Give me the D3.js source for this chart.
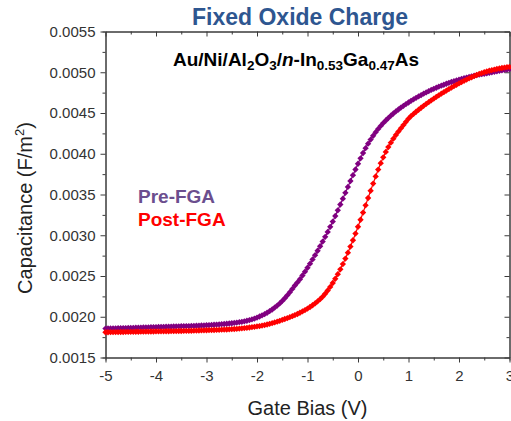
<!DOCTYPE html>
<html>
<head>
<meta charset="utf-8">
<script src="https://cdn.jsdelivr.net/npm/d3@7"></script>
<style>
  body { margin: 0; background: #fff; }
  svg text { font-family: "Liberation Sans", Arial, Helvetica, sans-serif; }
</style>
</head>
<body>
<svg id="chart" width="511" height="421"></svg>
<script>
// Gate bias sweep (V)
const gateBias = [
  -5.00, -4.95, -4.90, -4.85, -4.80, -4.75, -4.70, -4.65, -4.60, -4.55,
  -4.50, -4.45, -4.40, -4.35, -4.30, -4.25, -4.20, -4.15, -4.10, -4.05,
  -4.00, -3.95, -3.90, -3.85, -3.80, -3.75, -3.70, -3.65, -3.60, -3.55,
  -3.50, -3.45, -3.40, -3.35, -3.30, -3.25, -3.20, -3.15, -3.10, -3.05,
  -3.00, -2.95, -2.90, -2.85, -2.80, -2.75, -2.70, -2.65, -2.60, -2.55,
  -2.50, -2.45, -2.40, -2.35, -2.30, -2.25, -2.20, -2.15, -2.10, -2.05,
  -2.00, -1.95, -1.90, -1.85, -1.80, -1.75, -1.70, -1.65, -1.60, -1.55,
  -1.50, -1.45, -1.40, -1.35, -1.30, -1.25, -1.20, -1.15, -1.10, -1.05,
  -1.00, -0.95, -0.90, -0.85, -0.80, -0.75, -0.70, -0.65, -0.60, -0.55,
  -0.50, -0.45, -0.40, -0.35, -0.30, -0.25, -0.20, -0.15, -0.10, -0.05,
   0.00,  0.05,  0.10,  0.15,  0.20,  0.25,  0.30,  0.35,  0.40,  0.45,
   0.50,  0.55,  0.60,  0.65,  0.70,  0.75,  0.80,  0.85,  0.90,  0.95,
   1.00,  1.05,  1.10,  1.15,  1.20,  1.25,  1.30,  1.35,  1.40,  1.45,
   1.50,  1.55,  1.60,  1.65,  1.70,  1.75,  1.80,  1.85,  1.90,  1.95,
   2.00,  2.05,  2.10,  2.15,  2.20,  2.25,  2.30,  2.35,  2.40,  2.45,
   2.50,  2.55,  2.60,  2.65,  2.70,  2.75,  2.80,  2.85,  2.90,  2.95,
   3.00
];

// Capacitance before forming-gas anneal (F/m^2)
const preFGA = [
  0.001855, 0.001856, 0.001857, 0.001857, 0.001858, 0.001859, 0.001860, 0.001861, 0.001861, 0.001862,
  0.001863, 0.001864, 0.001865, 0.001866, 0.001867, 0.001868, 0.001869, 0.001870, 0.001871, 0.001872,
  0.001873, 0.001874, 0.001875, 0.001876, 0.001877, 0.001878, 0.001879, 0.001880, 0.001881, 0.001882,
  0.001883, 0.001884, 0.001885, 0.001886, 0.001887, 0.001889, 0.001890, 0.001891, 0.001893, 0.001894,
  0.001896, 0.001898, 0.001900, 0.001902, 0.001904, 0.001906, 0.001909, 0.001911, 0.001914, 0.001917,
  0.001920, 0.001924, 0.001928, 0.001933, 0.001938, 0.001944, 0.001951, 0.001959, 0.001967, 0.001978,
  0.001990, 0.002003, 0.002017, 0.002032, 0.002049, 0.002068, 0.002089, 0.002112, 0.002137, 0.002164,
  0.002194, 0.002227, 0.002263, 0.002301, 0.002341, 0.002383, 0.002421, 0.002460, 0.002506, 0.002553,
  0.002601, 0.002651, 0.002703, 0.002756, 0.002810, 0.002865, 0.002922, 0.002981, 0.003041, 0.003103,
  0.003168, 0.003236, 0.003306, 0.003377, 0.003449, 0.003521, 0.003593, 0.003666, 0.003737, 0.003807,
  0.003877, 0.003944, 0.004009, 0.004069, 0.004124, 0.004174, 0.004221, 0.004265, 0.004305, 0.004342,
  0.004376, 0.004408, 0.004438, 0.004467, 0.004494, 0.004519, 0.004543, 0.004566, 0.004588, 0.004609,
  0.004629, 0.004649, 0.004668, 0.004686, 0.004703, 0.004720, 0.004737, 0.004753, 0.004768, 0.004783,
  0.004797, 0.004810, 0.004823, 0.004835, 0.004847, 0.004859, 0.004870, 0.004880, 0.004890, 0.004900,
  0.004909, 0.004918, 0.004927, 0.004935, 0.004943, 0.004950, 0.004957, 0.004964, 0.004970, 0.004976,
  0.004982, 0.004988, 0.004994, 0.005000, 0.005006, 0.005012, 0.005018, 0.005023, 0.005029, 0.005034,
  0.005040
];

// Capacitance after forming-gas anneal (F/m^2)
const postFGA = [
  0.001810, 0.001810, 0.001811, 0.001811, 0.001812, 0.001812, 0.001813, 0.001813, 0.001814, 0.001814,
  0.001815, 0.001815, 0.001816, 0.001816, 0.001817, 0.001817, 0.001818, 0.001818, 0.001819, 0.001819,
  0.001820, 0.001820, 0.001821, 0.001821, 0.001822, 0.001822, 0.001823, 0.001823, 0.001824, 0.001825,
  0.001825, 0.001826, 0.001827, 0.001827, 0.001828, 0.001829, 0.001830, 0.001831, 0.001832, 0.001833,
  0.001834, 0.001835, 0.001836, 0.001837, 0.001838, 0.001840, 0.001841, 0.001843, 0.001844, 0.001846,
  0.001848, 0.001850, 0.001852, 0.001855, 0.001858, 0.001861, 0.001864, 0.001868, 0.001872, 0.001876,
  0.001881, 0.001886, 0.001892, 0.001898, 0.001905, 0.001913, 0.001921, 0.001930, 0.001940, 0.001950,
  0.001961, 0.001972, 0.001983, 0.001995, 0.002007, 0.002020, 0.002034, 0.002049, 0.002065, 0.002082,
  0.002100, 0.002120, 0.002141, 0.002164, 0.002189, 0.002216, 0.002246, 0.002282, 0.002322, 0.002366,
  0.002414, 0.002466, 0.002522, 0.002582, 0.002646, 0.002714, 0.002786, 0.002861, 0.002939, 0.003020,
  0.003104, 0.003190, 0.003278, 0.003367, 0.003457, 0.003546, 0.003634, 0.003722, 0.003806, 0.003884,
  0.003956, 0.004022, 0.004082, 0.004136, 0.004185, 0.004230, 0.004272, 0.004312, 0.004352, 0.004392,
  0.004430, 0.004462, 0.004489, 0.004515, 0.004540, 0.004564, 0.004588, 0.004611, 0.004633, 0.004655,
  0.004676, 0.004697, 0.004717, 0.004737, 0.004756, 0.004775, 0.004793, 0.004811, 0.004829, 0.004846,
  0.004863, 0.004879, 0.004895, 0.004910, 0.004925, 0.004939, 0.004953, 0.004966, 0.004979, 0.004990,
  0.005000, 0.005009, 0.005018, 0.005026, 0.005033, 0.005040, 0.005046, 0.005052, 0.005057, 0.005062,
  0.005066
];

const xTicks = [-5, -4, -3, -2, -1, 0, 1, 2, 3];
const xMinorTicks = [-4.5, -3.5, -2.5, -1.5, -0.5, 0.5, 1.5, 2.5];
const yTicks = [0.0015, 0.0020, 0.0025, 0.0030, 0.0035, 0.0040, 0.0045, 0.0050, 0.0055];
const yMinorTicks = [0.00175, 0.00225, 0.00275, 0.00325, 0.00375, 0.00425, 0.00475, 0.00525];
const seriesNames = ["Pre-FGA", "Post-FGA"];
const seriesColors = ["#800080", "#ff0000"];
const legendColors = ["#6b4e8e", "#ff0000"];

const svg = d3.select("#chart");

const x = d3.scaleLinear().domain([-5, 3]).range([105.5, 509.5]);
const y = d3.scaleLinear().domain([0.0015, 0.0055]).range([357.5, 31.5]);

const axisColor = "#3a3a3a";
const tickText = "#333";

function styleAxis(g) {
  g.selectAll("path.domain").attr("stroke", axisColor);
  g.selectAll(".tick line").attr("stroke", axisColor);
  g.selectAll(".tick text").attr("fill", tickText).style("font-size", "15px");
}

// bottom axis: major + minor ticks, outward
svg.append("g").attr("transform", `translate(0,${y.range()[0]})`)
  .call(d3.axisBottom(x).tickValues(xTicks).tickSize(5).tickSizeOuter(0).tickPadding(8)
    .tickFormat(d => String(d)))
  .call(styleAxis);
svg.append("g").attr("transform", `translate(0,${y.range()[0]})`)
  .call(d3.axisBottom(x).tickValues(xMinorTicks).tickSize(3).tickFormat(""))
  .call(styleAxis);

// left axis
svg.append("g").attr("transform", `translate(${x.range()[0]},0)`)
  .call(d3.axisLeft(y).tickValues(yTicks).tickSize(5).tickSizeOuter(0).tickPadding(5)
    .tickFormat(d3.format(".4f")))
  .call(styleAxis);
svg.append("g").attr("transform", `translate(${x.range()[0]},0)`)
  .call(d3.axisLeft(y).tickValues(yMinorTicks).tickSize(3).tickFormat(""))
  .call(styleAxis);

// top and right frame with inward ticks
svg.append("g").attr("transform", `translate(0,${y.range()[1]})`)
  .call(d3.axisBottom(x).tickValues(xTicks).tickSize(5).tickSizeOuter(0).tickFormat(""))
  .call(styleAxis);
svg.append("g").attr("transform", `translate(0,${y.range()[1]})`)
  .call(d3.axisBottom(x).tickValues(xMinorTicks).tickSize(3).tickSizeOuter(0).tickFormat(""))
  .call(styleAxis);
svg.append("g").attr("transform", `translate(${x.range()[1]},0)`)
  .call(d3.axisLeft(y).tickValues(yTicks).tickSize(5).tickSizeOuter(0).tickFormat(""))
  .call(styleAxis);
svg.append("g").attr("transform", `translate(${x.range()[1]},0)`)
  .call(d3.axisLeft(y).tickValues(yMinorTicks).tickSize(3).tickSizeOuter(0).tickFormat(""))
  .call(styleAxis);

// data series: thin connecting line with diamond markers
const seriesValues = [preFGA, postFGA];
const line = d3.line().x((d, i) => x(gateBias[i])).y(d => y(d));
const marker = d3.symbol().type(d3.symbolSquare).size(20);

seriesValues.forEach((vals, s) => {
  const g = svg.append("g").attr("class", "series");
  g.append("path").datum(vals)
    .attr("d", line)
    .attr("fill", "none")
    .attr("stroke", seriesColors[s])
    .attr("stroke-width", 1.2);
  g.selectAll("path.pt").data(vals).join("path")
    .attr("class", "pt")
    .attr("d", marker)
    .attr("transform", (d, i) => `translate(${x(gateBias[i])},${y(d)}) rotate(45)`)
    .attr("fill", seriesColors[s]);
});

// title
svg.append("text")
  .attr("x", 300).attr("y", 25)
  .attr("text-anchor", "middle")
  .attr("font-weight", "bold")
  .attr("fill", "#2e5690")
  .style("font-size", "23px")
  .text("Fixed Oxide Charge");

// device stack label
const stack = svg.append("text")
  .attr("x", 173).attr("y", 66)
  .attr("font-weight", "bold")
  .attr("fill", "#000")
  .style("font-size", "19px");
const parts = [
  ["Au/Ni/Al", "n"], ["2", "s"], ["O", "n"], ["3", "s"], ["/", "n"], ["n", "i"],
  ["-In", "n"], ["0.53", "s"], ["Ga", "n"], ["0.47", "s"], ["As", "n"]
];
let shifted = false;
parts.forEach(([t, kind]) => {
  const ts = stack.append("tspan").text(t);
  if (kind === "s") {
    ts.style("font-size", "13.5px").attr("dy", shifted ? 0 : 4);
    shifted = true;
  } else {
    if (shifted) ts.attr("dy", -4);
    shifted = false;
    if (kind === "i") ts.attr("font-style", "italic");
  }
});

// legend
seriesNames.forEach((name, i) => {
  svg.append("text")
    .attr("x", 138).attr("y", 203 + i * 23)
    .attr("font-weight", "bold")
    .attr("fill", legendColors[i])
    .style("font-size", "19px")
    .text(name);
});

// axis titles
svg.append("text")
  .attr("x", x(-1)).attr("y", 415)
  .attr("text-anchor", "middle")
  .attr("fill", "#222")
  .style("font-size", "20px")
  .text("Gate Bias (V)");

const yTitle = svg.append("text")
  .attr("transform", "translate(32,208) rotate(-90)")
  .attr("text-anchor", "middle")
  .attr("fill", "#222")
  .style("font-size", "20px");
yTitle.append("tspan").text("Capacitance (F/m");
yTitle.append("tspan").text("2").style("font-size", "13px").attr("dy", -8);
yTitle.append("tspan").text(")").attr("dy", 8);
</script>
</body>
</html>
